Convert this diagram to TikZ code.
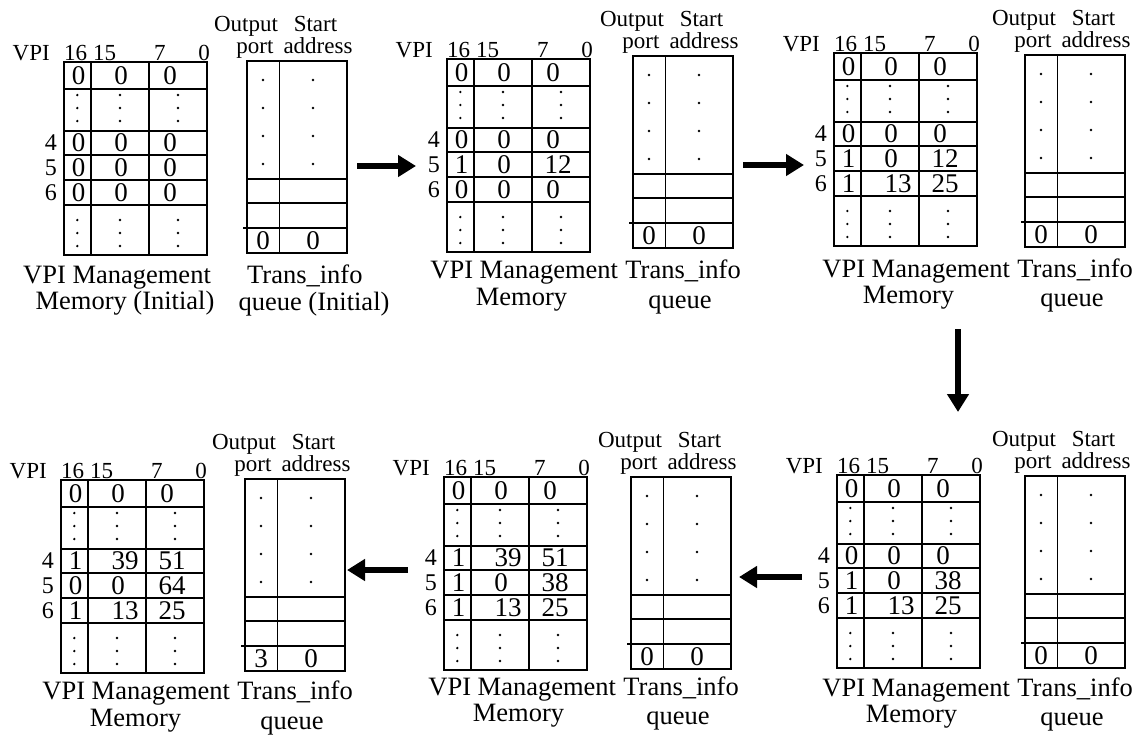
\documentclass[tikz,border=0pt]{standalone}
\usepackage{fontspec}
\setmainfont{Liberation Serif}
\usetikzlibrary{arrows.meta}
\tikzset{
  gridline/.style={line width=1.7pt},
  celltxt/.style={font=\fontsize{27pt}{27pt}\selectfont, inner sep=0pt},
  hdrtxt/.style={font=\fontsize{23pt}{23pt}\selectfont, inner sep=0pt},
  rowtxt/.style={font=\fontsize{24pt}{24pt}\selectfont, inner sep=0pt},
  captxt/.style={font=\fontsize{26.5pt}{26.5pt}\selectfont, inner sep=0pt},
  dotmark/.style={fill, circle, inner sep=0pt, minimum size=2.6pt},
  bigarrow/.style={line width=6pt, -{Triangle[length=18pt,width=21pt]}},
}
% memory table: #1 name, #2 x, #3 y (top-left corner)
\newcommand\MemTable[3]{%
 \begin{scope}[shift={(#2,#3)}]
  \draw[gridline] (0,0) rectangle (143,193);
  \draw[gridline] (26.7,0) -- (26.7,193) (85.3,0) -- (85.3,193);
  \foreach \yy in {27,69,93,118,143} \draw[gridline] (0,\yy) -- (143,\yy);
  \node[hdrtxt, anchor=base east] (#1-vpi) at (-14,-2) {VPI};
  \node[hdrtxt, anchor=base west] (#1-b16) at (0,-2) {16};
  \node[hdrtxt, anchor=base west] (#1-b15) at (29,-2) {15};
  \node[hdrtxt, anchor=base west] (#1-b7) at (90,-2) {7};
  \node[hdrtxt, anchor=base east] (#1-b0) at (146,-2) {0};
  \node[rowtxt, anchor=east] (#1-l4) at (-7,81) {4};
  \node[rowtxt, anchor=east] (#1-l5) at (-7,105.5) {5};
  \node[rowtxt, anchor=east] (#1-l6) at (-7,130.5) {6};
  \foreach \xx/\cc in {13.3/a,56/b,114/c}{%
    \foreach \yy/\k in {33/1,46/2,59/3,158/4,171/5,184/6}{%
      \node[dotmark] (#1-d\cc\k) at (\xx,\yy) {};}}
  \node[celltxt] (#1-r0a) at (14.5,13.5) {0};
  \node[celltxt] (#1-r0b) at (57,13.5) {0};
  \node[celltxt] (#1-r0c) at (106,13.5) {0};
 \end{scope}}
% one row of values: #1 name, #2 x, #3 y, #4 row centre, #5 tag, #6 #7 #8 values
\newcommand\MemRow[8]{%
 \begin{scope}[shift={(#2,#3)}]
  \ifnum#7<10 \def\colbx{57}\else\def\colbx{64}\fi
  \ifnum#8<10 \def\colcx{106}\else\def\colcx{111}\fi
  \node[celltxt] (#1-#5a) at (14.5,#4) {#6};
  \node[celltxt] (#1-#5b) at (\colbx,#4) {#7};
  \node[celltxt] (#1-#5c) at (\colcx,#4) {#8};
 \end{scope}}
% queue: #1 name, #2 x, #3 y, #4 output port value
\newcommand\QueueTable[4]{%
 \begin{scope}[shift={(#2,#3)}]
  \draw[gridline] (0,0) rectangle (100,192);
  \draw[gridline] (32.5,0) -- (32.5,192);
  \draw[gridline] (0,118) -- (100,118) (0,142) -- (100,142) (-4,167) -- (100,167);
  \foreach \xx/\cc in {16/a,66/b}{%
    \foreach \yy/\k in {19/1,47/2,75/3,103/4}{%
      \node[dotmark] (#1-d\cc\k) at (\xx,\yy) {};}}
  \node[celltxt] (#1-pa) at (16,179.5) {#4};
  \node[celltxt] (#1-pb) at (66,179.5) {0};
  \node[hdrtxt, anchor=base] (#1-h1) at (-1,-30) {Output};
  \node[hdrtxt, anchor=base] (#1-h2) at (68.5,-30) {Start};
  \node[hdrtxt, anchor=base] (#1-h3) at (8,-8) {port};
  \node[hdrtxt, anchor=base] (#1-h4) at (71,-8) {address};
 \end{scope}}
% captions for the later panels: #1 name, #2 table x, #3 queue x, #4 baseline 1, #5 memory baseline, #6 queue baseline
\newcommand\Captions[6]{%
  \node[captxt, anchor=base east] (#1-c2) at (#3+108,#4) {Trans\_info};
  \node[captxt, anchor=base east] (#1-c1) at ([xshift=-7pt]#1-c2.base west) {VPI Management};
  \node[captxt, anchor=base] (#1-c3) at (#2+74.5,#5) {Memory};
  \node[captxt, anchor=base] (#1-c4) at (#3+47,#6) {queue};
}
\begin{document}
\begin{tikzpicture}[x=1pt,y=-1pt]
\useasboundingbox (0,0) rectangle (1137,740);
% panel 1
\MemTable{m1}{64}{62}
\MemRow{m1}{64}{62}{81}{r4}{0}{0}{0}
\MemRow{m1}{64}{62}{105.5}{r5}{0}{0}{0}
\MemRow{m1}{64}{62}{130.5}{r6}{0}{0}{0}
\QueueTable{q1}{247}{61}{0}
\node[captxt, anchor=base west] (p1-c1) at (23,283) {VPI Management};
\node[captxt, anchor=base] (p1-c3) at (125,309) {Memory (Initial)};
\node[captxt, anchor=base west] (p1-c2) at (247,283) {Trans\_info};
\node[captxt, anchor=base] (p1-c4) at (314,310) {queue (Initial)};
% panel 2
\MemTable{m2}{447}{59}
\MemRow{m2}{447}{59}{81}{r4}{0}{0}{0}
\MemRow{m2}{447}{59}{105.5}{r5}{1}{0}{12}
\MemRow{m2}{447}{59}{130.5}{r6}{0}{0}{0}
\QueueTable{q2}{633}{56}{0}
\Captions{p2}{447}{633}{278}{305}{308}
% panel 3
\MemTable{m3}{834}{53}
\MemRow{m3}{834}{53}{81}{r4}{0}{0}{0}
\MemRow{m3}{834}{53}{105.5}{r5}{1}{0}{12}
\MemRow{m3}{834}{53}{130.5}{r6}{1}{13}{25}
\QueueTable{q3}{1025}{55}{0}
\Captions{p3}{834}{1025}{277}{303}{306}
% panel bottom right
\MemTable{m4}{837}{475}
\MemRow{m4}{837}{475}{81}{r4}{0}{0}{0}
\MemRow{m4}{837}{475}{105.5}{r5}{1}{0}{38}
\MemRow{m4}{837}{475}{130.5}{r6}{1}{13}{25}
\QueueTable{q4}{1025}{476}{0}
\Captions{p4}{837}{1025}{696}{722}{725}
% panel bottom middle
\MemTable{m5}{444}{477}
\MemRow{m5}{444}{477}{81}{r4}{1}{39}{51}
\MemRow{m5}{444}{477}{105.5}{r5}{1}{0}{38}
\MemRow{m5}{444}{477}{130.5}{r6}{1}{13}{25}
\QueueTable{q5}{631}{477}{0}
\Captions{p5}{444}{631}{695}{721}{724}
% panel bottom left
\MemTable{m6}{61}{480}
\MemRow{m6}{61}{480}{81}{r4}{1}{39}{51}
\MemRow{m6}{61}{480}{105.5}{r5}{0}{0}{64}
\MemRow{m6}{61}{480}{130.5}{r6}{1}{13}{25}
\QueueTable{q6}{245}{479}{3}
\Captions{p6}{61}{245}{699}{726}{729}
% arrows
\coordinate (a1s) at (357,166); \coordinate (a1e) at (416,166);
\coordinate (a2s) at (743,165); \coordinate (a2e) at (804,165);
\coordinate (a3s) at (958,329); \coordinate (a3e) at (958,412);
\coordinate (a4s) at (802,577); \coordinate (a4e) at (739,577);
\coordinate (a5s) at (408,570); \coordinate (a5e) at (347,570);
\draw[bigarrow] (a1s) -- (a1e);
\draw[bigarrow] (a2s) -- (a2e);
\draw[bigarrow] (a3s) -- (a3e);
\draw[bigarrow] (a4s) -- (a4e);
\draw[bigarrow] (a5s) -- (a5e);
\end{tikzpicture}
\end{document}
